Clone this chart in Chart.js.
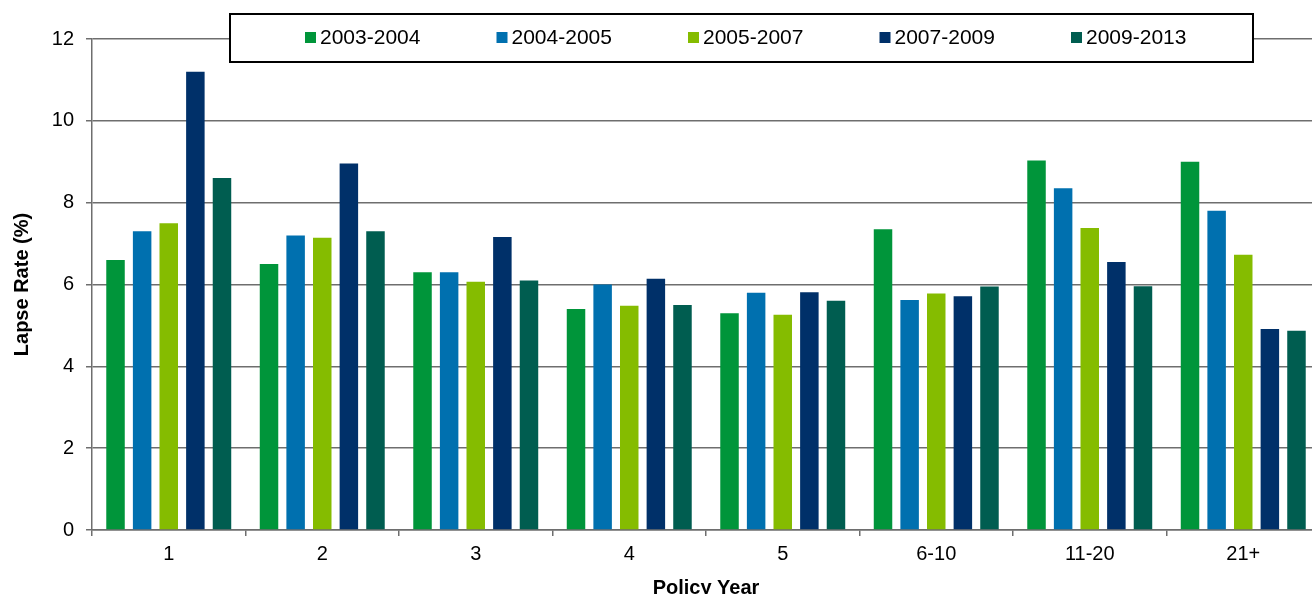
<!DOCTYPE html>
<html>
<head>
<meta charset="utf-8">
<script src="https://cdn.jsdelivr.net/npm/chart.js@4/dist/chart.umd.min.js"></script>
<style>
  html, body { margin: 0; padding: 0; background: #fff; overflow: hidden; }
  #wrap { width: 1320px; height: 600px; position: relative; }
</style>
</head>
<body>
<div id="wrap"><canvas id="chart"></canvas></div>
<script>
const policyYears = ["1", "2", "3", "4", "5", "6-10", "11-20", "21+"];
const periods = ["2003-2004", "2004-2005", "2005-2007", "2007-2009", "2009-2013"];
const colors = ["#00953A", "#0070AF", "#85BC00", "#003069", "#005D50"];

const rates2003_2004 = [6.6, 6.5, 6.3, 5.4, 5.3, 7.35, 9.03, 9.0];
const rates2004_2005 = [7.3, 7.2, 6.3, 6.0, 5.8, 5.62, 8.35, 7.8];
const rates2005_2007 = [7.5, 7.14, 6.07, 5.48, 5.26, 5.78, 7.38, 6.73];
const rates2007_2009 = [11.2, 8.96, 7.16, 6.14, 5.81, 5.71, 6.55, 4.91];
const rates2009_2013 = [8.6, 7.3, 6.1, 5.5, 5.6, 5.95, 5.96, 4.87];

const seriesValues = [rates2003_2004, rates2004_2005, rates2005_2007, rates2007_2009, rates2009_2013];
const yTicks = [0, 2, 4, 6, 8, 10, 12];

const FONT = "'Liberation Sans', Arial, sans-serif";
const GRID = "#6e6e6e";

// legend drawn as a boxed row floating over the top of the plot
const boxedLegend = {
  id: "boxedLegend",
  afterDraw(chart) {
    const ctx = chart.ctx;
    ctx.save();
    ctx.fillStyle = "#fff";
    ctx.fillRect(230, 14, 1023, 48);
    ctx.strokeStyle = "#000";
    ctx.lineWidth = 2;
    ctx.strokeRect(230, 14, 1023, 48);
    ctx.font = "21px " + FONT;
    ctx.textBaseline = "middle";
    let x = 305;
    chart.data.datasets.forEach((ds) => {
      ctx.fillStyle = ds.backgroundColor;
      ctx.fillRect(x, 32, 11, 11);
      ctx.fillStyle = "#000";
      ctx.fillText(ds.label, x + 15, 38.5);
      x += 191.5;
    });
    ctx.restore();
  },
};

new Chart(document.getElementById("chart"), {
  type: "bar",
  data: {
    labels: policyYears,
    datasets: periods.map((p, i) => ({
      label: p,
      data: seriesValues[i],
      backgroundColor: colors[i],
      categoryPercentage: 0.867,
      barPercentage: 0.695,
    })),
  },
  options: {
    responsive: true,
    maintainAspectRatio: false,
    animation: false,
    layout: { padding: { top: 39, left: 0, right: 0, bottom: 0 } },
    plugins: { legend: { display: false }, tooltip: { enabled: false } },
    scales: {
      x: {
        afterFit: (s) => { s.height = 70; },
        grid: {
          offset: true,
          drawOnChartArea: false,
          color: GRID,
          tickLength: 6,
          lineWidth: 1.5,
        },
        border: { color: GRID, width: 1.5 },
        ticks: { color: "#000", font: { family: FONT, size: 20 }, padding: 6 },
        title: {
          display: true,
          text: "Policy Year",
          color: "#000",
          font: { family: FONT, size: 20, weight: "bold" },
          padding: { top: 0, bottom: 0 },
        },
      },
      y: {
        min: 0,
        max: 12,
        afterFit: (s) => { s.width = 92; },
        afterBuildTicks: (s) => { s.ticks = yTicks.map((v) => ({ value: v })); },
        grid: { color: GRID, lineWidth: 1.5, tickLength: 6 },
        border: { color: GRID, width: 1.5 },
        ticks: { color: "#000", font: { family: FONT, size: 20 }, padding: 12 },
        title: {
          display: true,
          text: "Lapse Rate (%)",
          color: "#000",
          font: { family: FONT, size: 20, weight: "bold" },
          padding: { top: 10, bottom: 0 },
        },
      },
    },
  },
  plugins: [boxedLegend],
});
</script>
</body>
</html>
